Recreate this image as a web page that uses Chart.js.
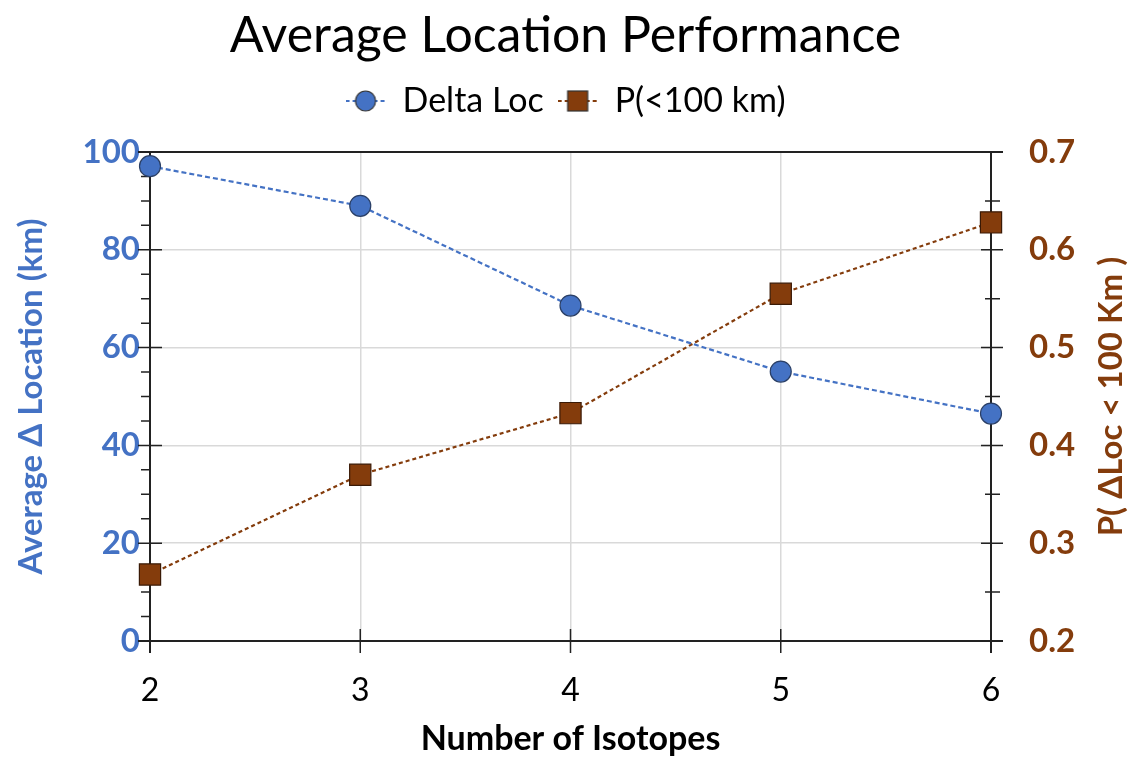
<!DOCTYPE html>
<html>
<head>
<meta charset="utf-8">
<script src="https://cdn.jsdelivr.net/npm/chart.js@4.4.1/dist/chart.umd.min.js"></script>
<style>
  body { margin: 0; background: #fff; }
  #wrap { width: 1131px; height: 759px; }
</style>
</head>
<body>
<div id="wrap"><canvas id="chart"></canvas></div>
<script>
// Data
const isotopes = [2, 3, 4, 5, 6];
const deltaLoc = [97.1, 89.0, 68.6, 55.1, 46.5];
const pUnder100 = [0.268, 0.370, 0.433, 0.555, 0.628];

const blue = '#4472C4';
const brown = '#843C0C';
const fontFamily = 'Lato, "Open Sans", sans-serif';

// small legend swatch: dashed line with marker in the middle
function legendSwatch(color, shape) {
    const c = document.createElement('canvas');
    c.width = 40; c.height = 26;
    const g = c.getContext('2d');
    g.strokeStyle = color;
    g.lineWidth = 2;
    g.setLineDash([4, 3]);
    g.beginPath(); g.moveTo(0, 13); g.lineTo(40, 13); g.stroke();
    g.setLineDash([]);
    g.fillStyle = color;
    g.strokeStyle = '#333';
    g.lineWidth = 1.2;
    if (shape === 'circle') {
        g.beginPath(); g.arc(20, 13, 10, 0, Math.PI * 2); g.fill(); g.stroke();
    } else {
        g.fillRect(10, 3, 20, 20); g.strokeRect(10, 3, 20, 20);
    }
    return c;
}
const swatches = [legendSwatch(blue, 'circle'), legendSwatch(brown, 'rect')];

// give the legend a bit more room underneath
const legendGap = {
    id: 'legendGap',
    beforeInit(chart) {
        const lg = chart.legend;
        if (!lg) return;
        const fit = lg.fit;
        lg.fit = function () { fit.call(this); this.height += 24; };
    }
};

// axis lines, tick marks (major + minor) and right-hand title
const axesPlugin = {
    id: 'excelAxes',
    beforeDatasetsDraw(chart) {
        const ctx = chart.ctx;
        const a = chart.chartArea;
        const x = chart.scales.x, yl = chart.scales.y, yr = chart.scales.y2;
        ctx.save();
        ctx.strokeStyle = '#222';
        ctx.lineWidth = 2;
        ctx.beginPath();
        // frame lines
        ctx.moveTo(a.left - 12, a.top); ctx.lineTo(a.right + 12, a.top);
        ctx.moveTo(a.left - 12, a.bottom); ctx.lineTo(a.right + 12, a.bottom);
        ctx.moveTo(a.left, a.top); ctx.lineTo(a.left, a.bottom + 12);
        ctx.moveTo(a.right, a.top); ctx.lineTo(a.right, a.bottom + 12);
        ctx.stroke();
        ctx.lineWidth = 1.5;
        ctx.beginPath();
        // left axis: major every 20, minor every 5
        for (let v = yl.min; v <= yl.max + 0.001; v += 5) {
            const py = yl.getPixelForValue(v);
            if (v % 20 === 0) { ctx.moveTo(a.left - 12, py); ctx.lineTo(a.left + 12, py); }
            else { ctx.moveTo(a.left - 9, py); ctx.lineTo(a.left, py); }
        }
        // right axis: major every 0.1, minor every 0.05
        for (let i = 0; i <= 10; i++) {
            const v = yr.min + i * 0.05;
            const py = yr.getPixelForValue(v);
            if (i % 2 === 0) { ctx.moveTo(a.right - 10, py); ctx.lineTo(a.right + 12, py); }
            else { ctx.moveTo(a.right - 6, py); ctx.lineTo(a.right + 9, py); }
        }
        // x axis
        isotopes.forEach(v => {
            const px = x.getPixelForValue(v);
            ctx.moveTo(px, a.bottom - 12); ctx.lineTo(px, a.bottom + 12);
        });
        ctx.stroke();
        // right axis title, reading bottom to top
        ctx.translate(yr.right - 20, (a.top + a.bottom) / 2);
        ctx.rotate(-Math.PI / 2);
        ctx.fillStyle = brown;
        ctx.font = 'bold 33px ' + fontFamily;
        ctx.textAlign = 'center';
        ctx.textBaseline = 'middle';
        ctx.fillText('P( \u0394Loc < 100 Km )', 0, 0);
        ctx.restore();
    }
};

new Chart(document.getElementById('chart'), {
    type: 'line',
    data: {
        datasets: [{
            label: 'Delta Loc',
            data: isotopes.map((n, i) => ({ x: n, y: deltaLoc[i] })),
            yAxisID: 'y',
            borderColor: blue,
            borderWidth: 2.2,
            borderDash: [5, 3],
            backgroundColor: blue,
            pointStyle: 'circle',
            pointRadius: 10.5,
            pointHoverRadius: 10.5,
            pointBorderColor: '#2a3f66',
            pointBorderWidth: 1.2,
            clip: false
        }, {
            label: 'P(<100 km)',
            data: isotopes.map((n, i) => ({ x: n, y: pUnder100[i] })),
            yAxisID: 'y2',
            borderColor: brown,
            borderWidth: 2.2,
            borderDash: [4, 3],
            backgroundColor: brown,
            pointStyle: 'rect',
            pointRadius: 15,
            pointHoverRadius: 15,
            pointBorderColor: '#3a1a06',
            pointBorderWidth: 1.2,
            clip: false
        }]
    },
    options: {
        responsive: true,
        maintainAspectRatio: false,
        animation: false,
        layout: { padding: 0 },
        plugins: {
            title: {
                display: true,
                text: 'Average Location Performance',
                color: '#000',
                font: { family: fontFamily, size: 50, weight: 'normal' },
                padding: { top: 6, bottom: 4 }
            },
            legend: {
                display: true,
                labels: {
                    color: '#000',
                    font: { family: fontFamily, size: 34 },
                    usePointStyle: true,
                    pointStyleWidth: 40,
                    boxHeight: 26,
                    padding: 14,
                    generateLabels(chart) {
                        const items = Chart.defaults.plugins.legend.labels.generateLabels(chart);
                        items.forEach((it, i) => { it.pointStyle = swatches[i]; });
                        return items;
                    }
                }
            },
            tooltip: { enabled: false }
        },
        scales: {
            x: {
                type: 'linear',
                min: 2,
                max: 6,
                ticks: {
                    stepSize: 1,
                    color: '#000',
                    font: { family: fontFamily, size: 32 },
                    padding: 30
                },
                grid: { color: '#d9d9d9', lineWidth: 1.5, drawTicks: false },
                border: { display: false },
                title: {
                    display: true,
                    text: 'Number of Isotopes',
                    color: '#000',
                    font: { family: fontFamily, size: 34, weight: 'bold' },
                    padding: { top: 4, bottom: 0 }
                },
                afterFit(scale) { scale.height = 118; }
            },
            y: {
                position: 'left',
                min: 0,
                max: 100,
                ticks: {
                    stepSize: 20,
                    color: blue,
                    font: { family: fontFamily, size: 33, weight: 'bold' },
                    padding: 10
                },
                grid: { color: '#d9d9d9', lineWidth: 1.5, drawTicks: false },
                border: { display: false },
                title: {
                    display: true,
                    text: 'Average \u0394 Location (km)',
                    color: blue,
                    font: { family: fontFamily, size: 33, weight: 'bold' },
                    padding: { top: 12, bottom: 0 }
                },
                afterFit(scale) { scale.width = 150; }
            },
            y2: {
                position: 'right',
                min: 0.2,
                max: 0.7,
                ticks: {
                    stepSize: 0.1,
                    color: brown,
                    font: { family: fontFamily, size: 33, weight: 'bold' },
                    padding: 38,
                    callback: v => v.toFixed(1)
                },
                grid: { display: false, drawTicks: false },
                border: { display: false },
                afterFit(scale) { scale.width = 140; }
            }
        }
    },
    plugins: [legendGap, axesPlugin]
});
</script>
</body>
</html>
